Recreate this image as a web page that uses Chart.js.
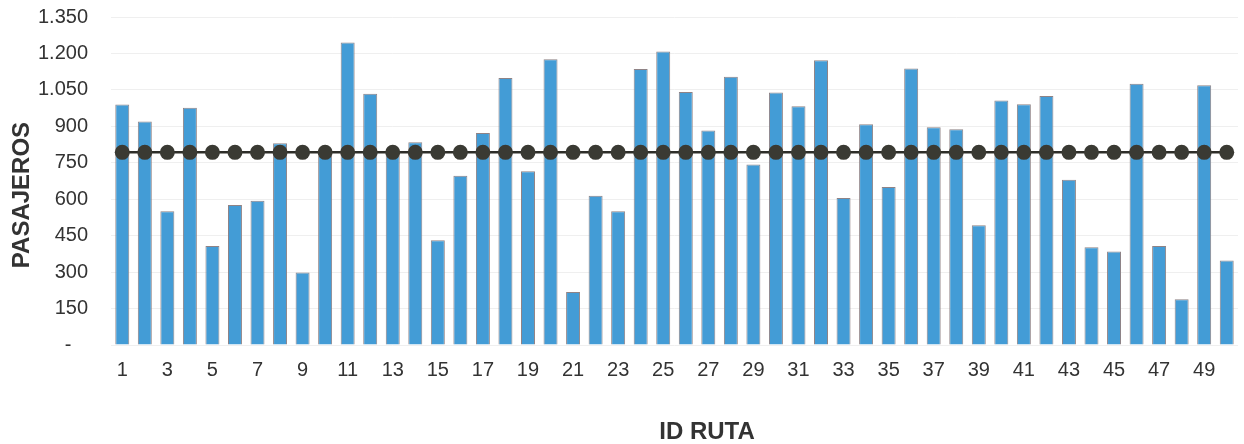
<!DOCTYPE html>
<html>
<head>
<meta charset="utf-8">
<script src="https://cdn.jsdelivr.net/npm/chart.js@4.4.1/dist/chart.umd.min.js"></script>
<style>
html,body{margin:0;padding:0;background:#fff;}
#wrap{width:1244px;height:444px;position:relative;}
</style>
</head>
<body>
<div id="wrap"><canvas id="c" width="1244" height="444"></canvas></div>
<script>
const categories = [1,2,3,4,5,6,7,8,9,10,11,12,13,14,15,16,17,18,19,20,21,22,23,24,25,26,27,28,29,30,31,32,33,34,35,36,37,38,39,40,41,42,43,44,45,46,47,48,49,50];
const pasajeros = [990,920,550,977,407,576,594,830,298,780,1245,1034,780,835,431,697,873,1099,715,1176,218,614,551,1136,1208,1041,883,1104,743,1039,983,1172,605,909,650,1138,896,888,493,1006,991,1025,680,402,385,1075,407,188,1069,348];
const promedio = [793,793,793,793,793,793,793,793,793,793,793,793,793,793,793,793,793,793,793,793,793,793,793,793,793,793,793,793,793,793,793,793,793,793,793,793,793,793,793,793,793,793,793,793,793,793,793,793,793,793];
const yTickValues = [0,150,300,450,600,750,900,1050,1200,1350];
const yTickLabels = ['-   ','150','300','450','600','750','900','1.050','1.200','1.350'];
const xTitle = 'ID RUTA';
const yTitle = 'PASAJEROS';

const FONT = "'Liberation Sans', Arial, sans-serif";

const axisTitles = {
  id: 'axisTitles',
  afterDraw(chart) {
    const ctx = chart.ctx;
    ctx.save();
    ctx.fillStyle = '#333';
    ctx.font = "bold 24px " + FONT;
    ctx.textAlign = 'center';
    ctx.textBaseline = 'middle';
    ctx.fillText(xTitle, 707, 432);
    ctx.translate(22, 195);
    ctx.rotate(-Math.PI / 2);
    ctx.fillText(yTitle, 0, 0);
    ctx.restore();
  }
};

new Chart(document.getElementById('c'), {
  type: 'bar',
  data: {
    labels: categories,
    datasets: [
      {
        type: 'line',
        data: promedio,
        borderColor: '#2e2e29',
        borderWidth: 2.5,
        pointRadius: 7.5,
        pointBackgroundColor: '#3a3a33',
        pointBorderColor: '#3a3a33',
        pointBorderWidth: 0,
        order: 0
      },
      {
        type: 'bar',
        data: pasajeros,
        backgroundColor: '#439cd6',
        borderColor: '#8f8386',
        borderWidth: 1,
        barPercentage: 0.62,
        categoryPercentage: 1.0,
        order: 1
      }
    ]
  },
  options: {
    responsive: false,
    maintainAspectRatio: false,
    animation: false,
    devicePixelRatio: 1,
    layout: { autoPadding: false, padding: { left: 5, right: 6, top: 17, bottom: 0 } },
    plugins: { legend: { display: false }, tooltip: { enabled: false } },
    scales: {
      x: {
        afterFit: function(axis) { axis.height = 99; },
        grid: { display: false, drawTicks: false },
        border: { display: false },
        ticks: {
          autoSkip: false, maxRotation: 0, minRotation: 0, padding: 13,
          color: '#333', font: { family: FONT, size: 20 },
          callback: function(v, i) { return (i % 2 === 0) ? String(categories[i]) : ''; }
        }
      },
      y: {
        min: 0, max: 1350,
        afterFit: function(axis) { axis.width = 106; axis.paddingTop = 12; axis.paddingBottom = 12; },
        afterBuildTicks: function(axis) { axis.ticks = yTickValues.map(v => ({ value: v })); },
        grid: { color: '#efefef', drawTicks: false, lineWidth: 1 },
        border: { display: false },
        ticks: {
          padding: 23, color: '#333', font: { family: FONT, size: 20 },
          callback: function(v) { const i = yTickValues.indexOf(v); return i >= 0 ? yTickLabels[i] : ''; }
        }
      }
    }
  },
  plugins: [axisTitles]
});
</script>
</body>
</html>
